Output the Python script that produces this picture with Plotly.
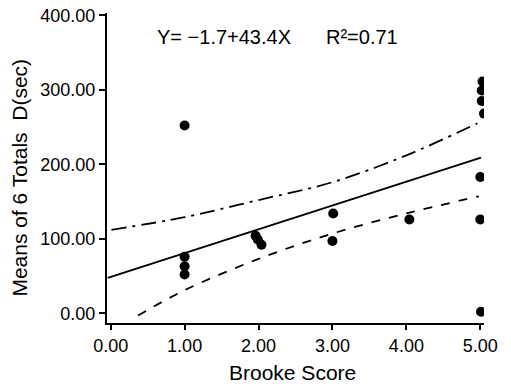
import plotly.graph_objects as go

# Observed data points (Brooke score vs mean of 6 totals D)
brooke = [1.00, 1.00, 1.00, 1.00, 1.96, 1.99, 2.04, 3.01, 3.00, 4.04,
          5.00, 5.00, 5.01, 5.03, 5.02, 5.02, 5.05]
means_d = [252, 76, 63, 52, 104, 99, 92, 134, 97, 126,
           183, 126, 2, 311, 299, 285, 268]

# Regression line (endpoints)
fit_x = [-0.04, 5.01]
fit_y = [47.5, 209]

# Upper confidence band
upper_x = [0.01, 1.0, 2.0, 3.0, 4.0, 4.96]
upper_y = [112, 129, 152, 176, 212, 255]

# Lower confidence band
lower_x = [0.37, 1.0, 2.0, 3.0, 4.0, 4.98]
lower_y = [-3, 31, 73, 107, 134, 157]

x_ticks = [0, 1, 2, 3, 4, 5]
x_tick_labels = ["0.00", "1.00", "2.00", "3.00", "4.00", "5.00"]
y_ticks = [0, 100, 200, 300, 400]
y_tick_labels = ["0.00", "100.00", "200.00", "300.00", "400.00"]

x_title = "Brooke Score"
y_title = "Means of 6 Totals  D(sec)"
equation = "Y= −1.7+43.4X"
r_squared = "R²=0.71"

FONT = "Liberation Sans, Arial, sans-serif"

fig = go.Figure()
fig.add_trace(go.Scatter(x=upper_x, y=upper_y, mode="lines",
                         line=dict(color="black", width=1.8, dash="longdashdot"),
                         line_shape="spline", showlegend=False))
fig.add_trace(go.Scatter(x=lower_x, y=lower_y, mode="lines",
                         line=dict(color="black", width=1.8, dash="dash"),
                         line_shape="spline", showlegend=False))
fig.add_trace(go.Scatter(x=fit_x, y=fit_y, mode="lines",
                         line=dict(color="black", width=1.8),
                         showlegend=False))
fig.add_trace(go.Scatter(x=brooke, y=means_d, mode="markers",
                         marker=dict(color="black", size=10),
                         showlegend=False))

fig.update_layout(
    width=511, height=384,
    margin=dict(l=107, r=27, t=13, b=61),
    paper_bgcolor="white", plot_bgcolor="white",
    font=dict(family=FONT, size=18, color="black"),
    xaxis=dict(range=[-0.05, 5.05], tickvals=x_ticks, ticktext=x_tick_labels,
               showgrid=False, zeroline=False, showline=True, linecolor="black",
               linewidth=2, ticks="outside", ticklen=5, tickwidth=1.5,
               tickcolor="black", automargin=False,
               tickfont=dict(size=18)),
    yaxis=dict(range=[-13, 403], tickvals=y_ticks, ticktext=y_tick_labels,
               showgrid=False, zeroline=False, showline=True, linecolor="black",
               linewidth=2, ticks="outside", ticklen=6, tickwidth=1.5,
               tickcolor="black", automargin=False,
               tickfont=dict(size=18)),
    annotations=[
        dict(text=equation, xref="paper", yref="paper", x=0.31, y=0.923,
             xanchor="center", yanchor="middle",
             showarrow=False, font=dict(family=FONT, size=20)),
        dict(text=r_squared, xref="paper", yref="paper", x=0.676, y=0.923,
             xanchor="center", yanchor="middle",
             showarrow=False, font=dict(family=FONT, size=20)),
        dict(text=x_title, xref="paper", yref="paper", x=0.493, y=-0.161,
             xanchor="center", yanchor="middle",
             showarrow=False, font=dict(family=FONT, size=21)),
        dict(text=y_title, xref="paper", yref="paper", x=-0.2308, y=0.469,
             xanchor="center", yanchor="middle", textangle=-90,
             showarrow=False, font=dict(family=FONT, size=21)),
    ],
)

fig.write_html("out.html", config={"displayModeBar": False},
               post_script="document.body.style.margin='0';")
